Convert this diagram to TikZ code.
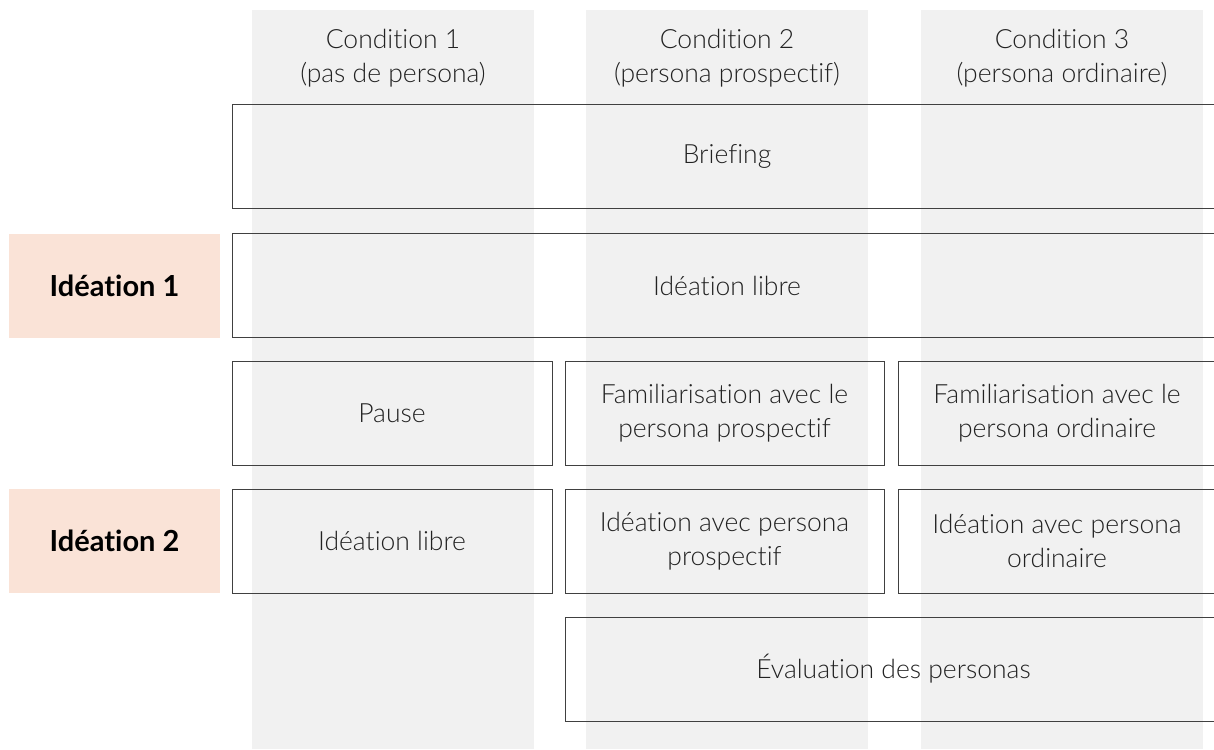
\documentclass[tikz,border=0pt]{standalone}
\usepackage{fontspec}
\setmainfont{Lato}[UprightFont={* Light}, BoldFont={* Bold}, Ligatures=NoCommon]
\usepackage{xcolor}
\usetikzlibrary{positioning}

\definecolor{bandgray}{HTML}{F1F1F1}
\definecolor{phaseorange}{HTML}{FAE3D7}
\definecolor{boxline}{HTML}{404040}
\definecolor{inkgray}{HTML}{222222}

\begin{document}
\begin{tikzpicture}[
    x=1pt, y=-1pt,
    font=\fontsize{26.5}{34}\selectfont,
    text=inkgray,
    head/.style={align=center, inner sep=0pt},
    box/.style={rectangle, draw=boxline, line width=1pt, align=center, inner sep=0pt, minimum height=104pt},
    phase/.style={rectangle, fill=phaseorange, inner sep=0pt, minimum width=211pt, minimum height=104pt,
                  font=\fontsize{29}{34}\selectfont\bfseries, text=black}
]
\clip (0,0) rectangle (1214,749);
% Condition columns (background bands)
\foreach \cx in {252,586,921}
    \fill[bandgray] (\cx,10) rectangle ++(282,739);
% Column headers
\node[head] (cond1) at (393,58)  {Condition 1\\(pas de persona)};
\node[head] (cond2) at (727,58)  {Condition 2\\(persona prospectif)};
\node[head] (cond3) at (1062,58) {Condition 3\\(persona ordinaire)};
% Phases (left)
\node[phase] (idea1) at (114.5,285.5) {Idéation 1};
\node[phase] (idea2) at (114.5,541)   {Idéation 2};
% Shared steps
\node[box, minimum width=990pt] (brief) at (727,156.5) {Briefing};
\node[box, minimum width=990pt] (free1) at (727,285.5) {Idéation libre};
% Per-condition steps
\node[box, minimum width=320pt] (pause)  at (392,413)    {Pause};
\node[box, minimum width=319pt] (famp)   at (724.5,413)  {Familiarisation avec le\\persona prospectif};
\node[box, minimum width=318pt] (famo)   at (1057,413)   {Familiarisation avec le\\persona ordinaire};
\node[box, minimum width=320pt] (free2)  at (392,541)    {Idéation libre};
\node[box, minimum width=319pt] (ideap)  at (724.5,541)  {Idéation avec persona\\prospectif};
\node[box, minimum width=318pt] (ideao)  at (1057,541)   {Idéation avec persona\\ordinaire};
\node[box, minimum width=657pt] (eval)   at (893.5,669)  {Évaluation des personas};
\end{tikzpicture}
\end{document}
